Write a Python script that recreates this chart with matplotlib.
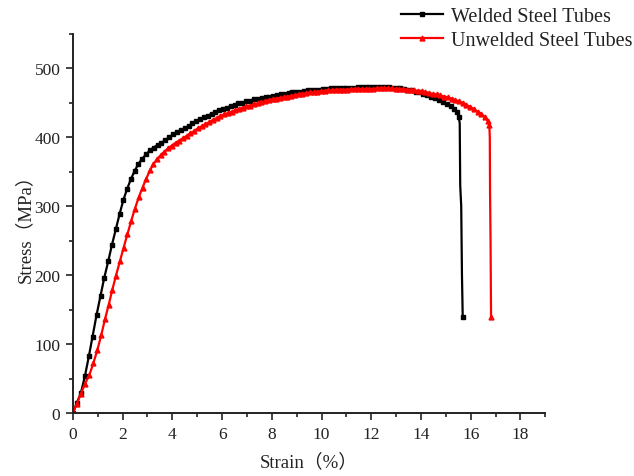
import matplotlib
matplotlib.use("Agg")
import matplotlib.pyplot as plt
from matplotlib.ticker import MultipleLocator

plt.rcParams['font.family'] = ['Liberation Serif', 'Noto Sans CJK SC']

# welded tube: strain (%) and stress (MPa)
welded_strain = [0, 0.15, 0.32, 0.48, 0.64, 0.79, 0.95, 1.11, 1.26, 1.42, 1.57, 1.73, 1.88,
                 2.03, 2.18, 2.33, 2.48, 2.63, 2.79, 2.94, 3.10, 3.25, 3.41, 3.56, 3.72, 3.87,
                 4.03, 4.18, 4.34, 4.49, 4.65, 4.80, 4.96, 5.11, 5.27, 5.42, 5.58, 5.73, 5.89,
                 6.04, 6.20, 6.35, 6.51, 6.66, 6.82, 6.97, 7.13, 7.28, 7.44, 7.59, 7.75, 7.90,
                 8.06, 8.21, 8.37, 8.52, 8.68, 8.83, 8.99, 9.14, 9.30, 9.45, 9.61, 9.76, 9.92,
                 10.07, 10.23, 10.38, 10.54, 10.69, 10.85, 11.00, 11.16, 11.31, 11.47, 11.62,
                 11.78, 11.93, 12.09, 12.24, 12.40, 12.55, 12.71, 12.86, 13.02, 13.17, 13.33,
                 13.48, 13.64, 13.79, 13.95, 14.10, 14.26, 14.41, 14.57, 14.72, 14.88, 15.03,
                 15.19, 15.34, 15.45, 15.52, 15.56, 15.58, 15.62, 15.65, 15.68]
welded_stress = [0, 14, 29, 53, 82, 111, 142, 170, 196, 220, 244, 267, 289,
                 309, 325, 339, 351, 361, 369, 375, 381, 385, 389, 392, 396, 400,
                 404, 407, 410, 413, 416, 420, 423, 426, 429, 431, 434, 436, 439,
                 441, 443, 445, 447, 449, 450, 452, 453, 455, 456, 457, 458, 459,
                 460, 461, 462, 463, 464, 465, 466, 466, 467, 468, 468, 469, 469,
                 470, 470, 471, 471, 471, 472, 472, 472, 472, 473, 473,
                 473, 473, 473, 473, 473, 473, 473, 472, 472, 471, 470,
                 469, 468, 466, 465, 463, 461, 459, 457, 454, 451, 448,
                 445, 441, 436, 430, 420, 330, 300, 200, 140]

# unwelded tube
unwelded_strain = [0, 0.15, 0.32, 0.48, 0.66, 0.82, 0.98, 1.14, 1.29, 1.44, 1.58, 1.73, 1.89,
                   2.04, 2.19, 2.34, 2.49, 2.65, 2.80, 2.95, 3.10, 3.24, 3.38, 3.53, 3.68, 3.83,
                   3.98, 4.13, 4.28, 4.43, 4.58, 4.73, 4.88, 5.03, 5.18, 5.33, 5.48, 5.63, 5.78,
                   5.93, 6.08, 6.23, 6.38, 6.53, 6.68, 6.83, 6.98, 7.13, 7.28, 7.43, 7.58, 7.73,
                   7.88, 8.03, 8.18, 8.33, 8.48, 8.63, 8.78, 8.93, 9.08, 9.23, 9.38, 9.53, 9.68,
                   9.83, 9.98, 10.13, 10.28, 10.43, 10.58, 10.73, 10.88, 11.03, 11.18, 11.33,
                   11.48, 11.63, 11.78, 11.93, 12.08, 12.23, 12.38, 12.53, 12.68, 12.83, 12.98,
                   13.13, 13.28, 13.43, 13.58, 13.73, 13.88, 14.03, 14.18, 14.33, 14.48, 14.63,
                   14.78, 14.93, 15.08, 15.23, 15.38, 15.53, 15.68, 15.83, 15.98, 16.13, 16.28,
                   16.43, 16.58, 16.70, 16.75, 16.77, 16.78, 16.80, 16.82]
unwelded_stress = [0, 13, 28, 42, 55, 72, 91, 113, 136, 157, 178, 199, 220,
                   240, 259, 278, 296, 313, 327, 340, 352, 361, 368, 374, 379, 384,
                   388, 392, 395, 399, 402, 406, 409, 413, 416, 419, 422, 425, 428,
                   431, 433, 435, 437, 439, 441, 443, 445, 446, 448, 449, 451, 452,
                   454, 455, 456, 457, 458, 459, 460, 461, 462, 463, 464, 465, 465,
                   466, 467, 467, 468, 468, 469, 469, 469, 469, 470, 470,
                   470, 470, 470, 470, 470, 471, 471, 471, 471, 471, 470,
                   470, 470, 469, 469, 468, 467, 467, 466, 464, 463, 462,
                   461, 459, 458, 456, 454, 452, 450, 447, 444, 441, 437,
                   434, 429, 423, 418, 400, 320, 250, 140]

# no markers on the fracture drop except the last point
w_marks = [i for i in range(len(welded_strain)) if i < len(welded_strain) - 5 or i == len(welded_strain) - 1]
u_marks = [i for i in range(len(unwelded_strain)) if i < len(unwelded_strain) - 4 or i == len(unwelded_strain) - 1]

fig = plt.figure(figsize=(6.34, 4.77), dpi=100)
ax = fig.add_axes([0.115, 0.132, 0.745, 0.795])

ax.plot(welded_strain, welded_stress, color='black', lw=1.6, marker='s', ms=3,
        markevery=w_marks, label='Welded Steel Tubes')
ax.plot(unwelded_strain, unwelded_stress, color='red', lw=1.6, marker='^', ms=3.5,
        markevery=u_marks, label='Unwelded Steel Tubes')

ax.set_xlim(0, 19)
ax.set_ylim(0, 550)
ax.xaxis.set_major_locator(MultipleLocator(2))
ax.xaxis.set_minor_locator(MultipleLocator(1))
ax.yaxis.set_major_locator(MultipleLocator(100))
ax.yaxis.set_minor_locator(MultipleLocator(50))
ax.tick_params(which='both', direction='out', width=1.2, labelsize=12.5, colors='#222222')
ax.tick_params(which='major', length=5, pad=4)
ax.tick_params(which='minor', length=3)
for s in ['top', 'right']:
    ax.spines[s].set_visible(False)
for s in ['left', 'bottom']:
    ax.spines[s].set_linewidth(1.4)
    ax.spines[s].set_color('#222222')

ax.set_xlabel('Strain（%）', fontsize=13.5, labelpad=8, color='#222222')
ax.set_ylabel('Stress（MPa）', fontsize=13.5, labelpad=0, color='#222222')

fig.legend(loc='upper right', bbox_to_anchor=(1.027, 1.022), frameon=False,
           fontsize=14.5, handlelength=2.1, handletextpad=0.4, labelspacing=0.25,
           labelcolor='#222222')

fig.savefig('out.png', dpi=100)
